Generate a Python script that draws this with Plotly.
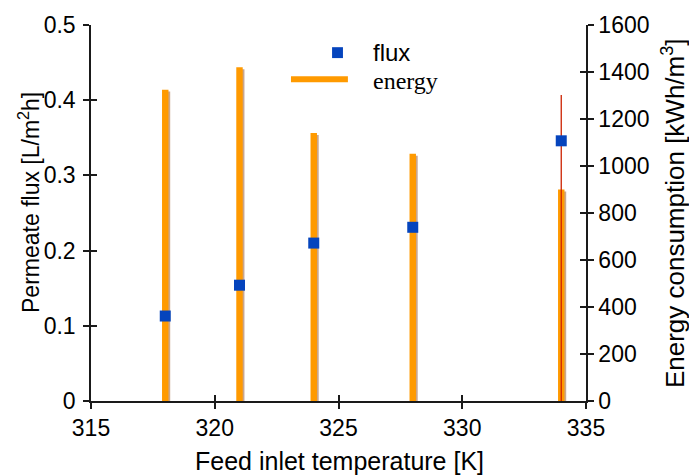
import plotly.graph_objects as go

# ---- data ----
temperature = [318, 321, 324, 328, 334]
flux = [0.113, 0.154, 0.210, 0.231, 0.346]
flux_err_plus = [0, 0, 0, 0, 0.061]
flux_err_minus = [0, 0, 0, 0, 0.346]
energy = [1325, 1420, 1140, 1052, 900]

x_ticks = [315, 320, 325, 330, 335]
flux_ticks = [0, 0.1, 0.2, 0.3, 0.4, 0.5]
flux_tick_text = ["0", "0.1", "0.2", "0.3", "0.4", "0.5"]
energy_ticks = [0, 200, 400, 600, 800, 1000, 1200, 1400, 1600]

# ---- style ----
SANS = "Liberation Sans, Arial, sans-serif"
SERIF = "Liberation Serif, Times New Roman, serif"
FS = 23
ORANGE = "#ff9a00"
SHADOW = "#c9a68e"
BLUE = "#0544bd"
RED = "#cc2200"
AX = "#1a1a1a"

fig = go.Figure()

# energy shadow + bars (primary y axis on the right)
fig.add_trace(go.Bar(x=temperature, y=energy, base=-8, width=0.26, offset=-0.06,
                     marker=dict(color=SHADOW, line=dict(width=0)),
                     yaxis="y", showlegend=False, hoverinfo="skip"))
fig.add_trace(go.Bar(x=temperature, y=energy, width=0.26, offset=-0.13,
                     marker=dict(color=ORANGE, line=dict(width=0)),
                     yaxis="y", name="energy", showlegend=False))

# flux markers (left axis, overlaying, drawn on top)
fig.add_trace(go.Scatter(x=temperature, y=flux, mode="markers", yaxis="y2",
                         marker=dict(symbol="square", size=11, color=BLUE),
                         error_y=dict(type="data", array=flux_err_plus,
                                      arrayminus=flux_err_minus, symmetric=False,
                                      color=RED, thickness=1.3, width=0),
                         name="flux", showlegend=False))

# empty helper traces so the inside-tick overlay axes get drawn
fig.add_trace(go.Scatter(x=[], y=[], xaxis="x2", yaxis="y4", showlegend=False,
                         hoverinfo="skip"))
fig.add_trace(go.Scatter(x=[], y=[], xaxis="x", yaxis="y3", showlegend=False,
                         hoverinfo="skip"))

common_axis = dict(showline=True, linecolor=AX, linewidth=1.5, showgrid=False,
                   zeroline=False, ticks="outside", ticklen=6, tickwidth=1.5,
                   tickcolor=AX, tickfont=dict(family=SANS, size=FS, color="black"))
inside_axis = dict(showline=False, showgrid=False, zeroline=False, ticks="inside",
                   ticklen=6, tickwidth=1.5, tickcolor=AX, showticklabels=False)

fig.update_layout(
    width=689, height=476,
    margin=dict(l=91, r=103, t=25, b=75),
    paper_bgcolor="white", plot_bgcolor="white",
    barmode="overlay", showlegend=False,
    xaxis=dict(range=[315, 335], tickvals=x_ticks, **common_axis),
    yaxis=dict(range=[0, 1600], tickvals=energy_ticks, side="right", anchor="x",
               **common_axis),
    yaxis2=dict(range=[0, 0.5], tickvals=flux_ticks, ticktext=flux_tick_text,
                side="left", overlaying="y", anchor="x", ticklabelstandoff=3,
                **common_axis),
    xaxis2=dict(range=[315, 335], tickvals=x_ticks, overlaying="x", anchor="y",
                **inside_axis),
    yaxis3=dict(range=[0, 1600], tickvals=energy_ticks, overlaying="y", side="right",
                anchor="x", **inside_axis),
    yaxis4=dict(range=[0, 0.5], tickvals=flux_ticks, overlaying="y", side="left",
                anchor="x", **inside_axis),
)

# axis titles
fig.add_annotation(xref="paper", yref="paper", x=0.503, y=-0.16, xanchor="center",
                   yanchor="middle", showarrow=False, text="Feed inlet temperature [K]",
                   font=dict(family=SANS, size=25, color="black"))
fig.add_annotation(xref="paper", yref="paper", x=-0.125, y=0.527, xanchor="center",
                   yanchor="middle", showarrow=False, textangle=-90,
                   text="Permeate flux [L/m<sup>2</sup>h]",
                   font=dict(family=SANS, size=FS, color="black"))
fig.add_annotation(xref="paper", yref="paper", x=1.176, y=0.5, xanchor="center",
                   yanchor="middle", showarrow=False, textangle=-90,
                   text="Energy consumption [kWh/m<sup>3</sup>]",
                   font=dict(family=SANS, size=26, color="black"))

# manual legend
fig.add_shape(type="rect", xref="paper", yref="paper",
              x0=0.487, x1=0.509, y0=0.912, y1=0.941,
              fillcolor=BLUE, line=dict(width=0))
fig.add_shape(type="line", xref="paper", yref="paper",
              x0=0.404, x1=0.519, y0=0.856, y1=0.856,
              line=dict(color=ORANGE, width=6))
fig.add_annotation(xref="paper", yref="paper", x=0.566, y=0.928, xanchor="left",
                   yanchor="middle", showarrow=False, text="flux",
                   font=dict(family=SANS, size=24, color="black"))
fig.add_annotation(xref="paper", yref="paper", x=0.566, y=0.852, xanchor="left",
                   yanchor="middle", showarrow=False, text="energy",
                   font=dict(family=SERIF, size=24, color="black"))

fig.write_html("out.html")
